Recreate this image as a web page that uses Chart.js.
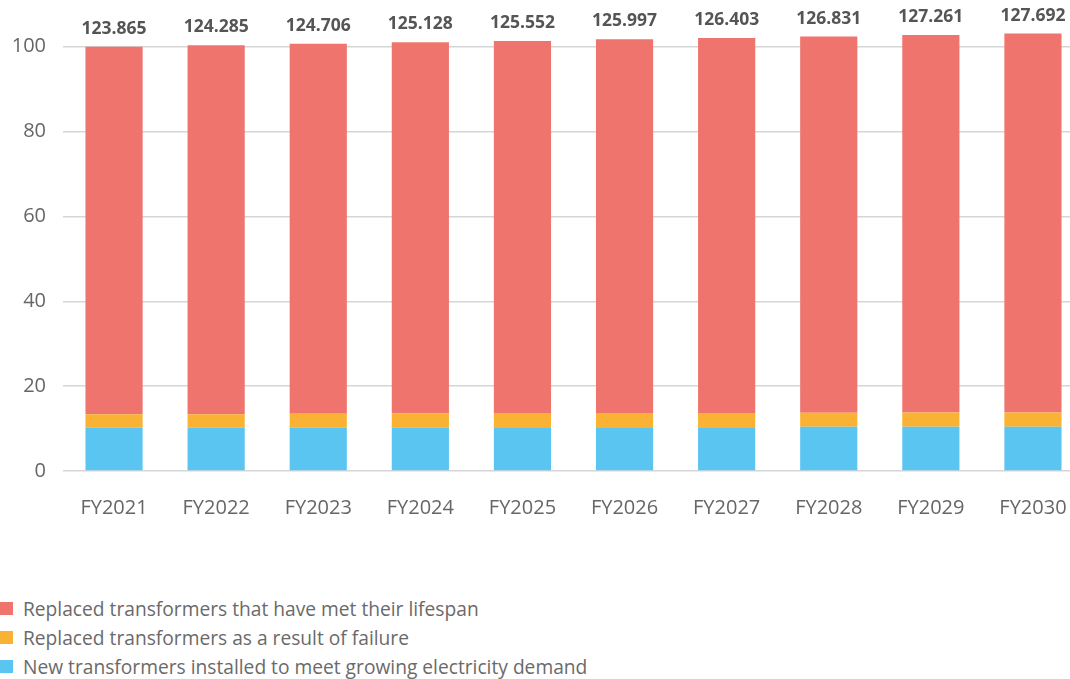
<!DOCTYPE html>
<html>
<head>
<meta charset="utf-8">
<script src="https://cdn.jsdelivr.net/npm/chart.js@4/dist/chart.umd.min.js"></script>
<style>
  html, body { margin: 0; padding: 0; background: #fff; overflow: hidden; }
  body { width: 1070px; height: 679px; position: relative; font-family: "Open Sans", sans-serif; }
  #transformerChart { position: absolute; left: 0; top: 0; }
  #legend { position: absolute; left: 0; top: 594px; margin: 0; padding: 0; list-style: none; }
  #legend li { height: 29px; display: flex; align-items: center; font-size: 19.2px; color: #6a6a6a; white-space: nowrap; }
  #legend .swatch { width: 13px; height: 13px; margin-right: 10px; flex: none; }
</style>
</head>
<body>
<canvas id="transformerChart" width="1084" height="520"></canvas>
<ul id="legend"></ul>
<script>
// fiscal years and stacked series (number of transformers, stacked bottom to top)
const years = ['FY2021', 'FY2022', 'FY2023', 'FY2024', 'FY2025', 'FY2026', 'FY2027', 'FY2028', 'FY2029', 'FY2030'];
const newDemand = [12.6, 12.6, 12.7, 12.7, 12.8, 12.8, 12.8, 12.9, 12.9, 12.9];
const failureReplaced = [4.0, 4.0, 4.0, 4.1, 4.1, 4.1, 4.1, 4.1, 4.2, 4.2];
const lifespanReplaced = [107.265, 107.685, 108.006, 108.328, 108.652, 109.097, 109.503, 109.831, 110.161, 110.592];
const totals = [123.865, 124.285, 124.706, 125.128, 125.552, 125.997, 126.403, 126.831, 127.261, 127.692];

// y axis is an index: FY2021 total = 100
const yTickLabels = [0, 20, 40, 60, 80, 100];
const indexBase = totals[0] / 100;

const seriesNames = [
    'New transformers installed to meet growing electricity demand',
    'Replaced transformers as a result of failure',
    'Replaced transformers that have met their lifespan'
];
const colors = ['#5bc5f2', '#f9b233', '#ef746d'];

// totals printed above each stack
const totalLabels = {
    id: 'totalLabels',
    afterDatasetsDraw(chart) {
        const ctx = chart.ctx;
        const top = chart.getDatasetMeta(chart.data.datasets.length - 1);
        ctx.save();
        ctx.font = 'bold 17.5px "Open Sans"';
        ctx.fillStyle = '#555';
        ctx.textAlign = 'center';
        ctx.textBaseline = 'alphabetic';
        top.data.forEach((bar, i) => {
            ctx.fillText(totals[i].toFixed(3), bar.x, bar.y - 13);
        });
        ctx.restore();
    }
};

const datasets = [newDemand, failureReplaced, lifespanReplaced].map((d, i) => ({
    label: seriesNames[i],
    data: d,
    backgroundColor: colors[i],
    borderWidth: 0,
    categoryPercentage: 1,
    barPercentage: 0.56
}));

// fixed axis boxes, no extra padding for edge labels
function noEdgePadding(s) {
    s.paddingTop = 0;
    s.paddingBottom = 0;
    s.paddingLeft = 0;
    s.paddingRight = 0;
}

const chart = new Chart(document.getElementById('transformerChart'), {
    type: 'bar',
    data: { labels: years, datasets: datasets },
    options: {
        responsive: false,
        animation: false,
        layout: { padding: 0 },
        plugins: {
            legend: { display: false },
            tooltip: { enabled: false }
        },
        scales: {
            x: {
                stacked: true,
                afterFit: s => { s.height = 49; noEdgePadding(s); },
                grid: { display: false, drawTicks: false },
                border: { display: false },
                ticks: {
                    color: '#666',
                    padding: 25,
                    maxRotation: 0,
                    font: { family: 'Open Sans', size: 20 }
                }
            },
            y: {
                stacked: true,
                min: 0,
                max: 111 * indexBase,
                afterBuildTicks: scale => {
                    scale.ticks = yTickLabels.map(v => ({ value: v * indexBase }));
                },
                afterFit: s => { s.width = 63; noEdgePadding(s); },
                grid: { color: '#d6d6d6', lineWidth: 1.5, drawTicks: false },
                border: { display: false },
                ticks: {
                    color: '#666',
                    padding: 17,
                    font: { family: 'Open Sans', size: 20 },
                    callback: value => Math.round(value / indexBase)
                }
            }
        }
    },
    plugins: [totalLabels]
});

// legend, top series first
const legend = document.getElementById('legend');
chart.data.datasets.slice().reverse().forEach(ds => {
    const li = document.createElement('li');
    const sw = document.createElement('span');
    sw.className = 'swatch';
    sw.style.background = ds.backgroundColor;
    li.appendChild(sw);
    li.appendChild(document.createTextNode(ds.label));
    legend.appendChild(li);
});
</script>
</body>
</html>
